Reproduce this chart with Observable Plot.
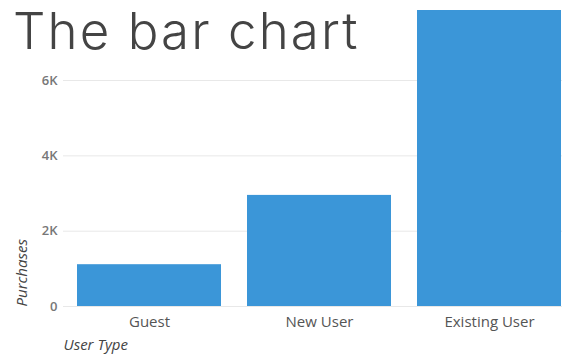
<!DOCTYPE html>
<html>
<head>
<meta charset="utf-8">
<script src="https://cdn.jsdelivr.net/npm/d3@7"></script>
<script src="https://cdn.jsdelivr.net/npm/@observablehq/plot@0.6"></script>
<style>
  html, body { margin: 0; padding: 0; background: #fff; }
  #wrap { position: relative; width: 562px; height: 355px; overflow: hidden; }
  #title { position: absolute; left: 13px; top: 3px; margin: 0; line-height: 1.1; font-family: Inter, sans-serif; font-weight: 300; font-size: 51px; color: #444; letter-spacing: 2.1px; z-index: 2; white-space: nowrap; }
</style>
</head>
<body>
<div id="wrap">
  <h1 id="title">The bar chart</h1>
  <div id="chart"></div>
</div>
<script>
const categories = ["Guest", "New User", "Existing User"];
const purchases = [1110, 2950, 7860];
const yTicks = [0, 2000, 4000, 6000];
const yTickLabels = ["0", "2K", "4K", "6K"];
const xLabel = "User Type";
const yLabel = "Purchases";

const data = categories.map((c, i) => ({ type: c, value: purchases[i] }));

const chart = Plot.plot({
  width: 562,
  height: 355,
  marginLeft: 63,
  marginRight: 0,
  marginTop: 10,
  marginBottom: 49,
  style: { fontFamily: "'Open Sans', sans-serif", background: "#fff", overflow: "visible" },
  x: { domain: categories, range: [76, 563], paddingInner: 0.152, paddingOuter: 0 },
  y: { domain: [0, d3.max(purchases)], nice: false },
  marks: [
    Plot.gridY(yTicks, { stroke: "#e8e8e8", strokeOpacity: 1, strokeWidth: 1 }),
    Plot.barY(data, { x: "type", y: "value", fill: "#3b96d8" }),
    Plot.axisY({
      ticks: yTicks,
      tickSize: 0,
      tickPadding: 6,
      tickFormat: (d) => yTickLabels[yTicks.indexOf(d)],
      fontSize: 13,
      fontWeight: 600,
      fill: "#777",
      label: null
    }),
    Plot.axisX({
      tickSize: 0,
      tickPadding: 10,
      fontSize: 15,
      fill: "#555",
      label: null
    }),
    Plot.text([xLabel], {
      frameAnchor: "bottom-left",
      text: (d) => d,
      fontSize: 15,
      fontStyle: "italic",
      fill: "#444",
      textAnchor: "start",
      lineAnchor: "top",
      dy: 33
    }),
    Plot.text([yLabel], {
      frameAnchor: "bottom-left",
      text: (d) => d,
      fontSize: 15,
      fontStyle: "italic",
      fill: "#444",
      textAnchor: "start",
      lineAnchor: "middle",
      rotate: -90,
      dx: -41
    })
  ]
});
document.getElementById("chart").appendChild(chart);
</script>
</body>
</html>
